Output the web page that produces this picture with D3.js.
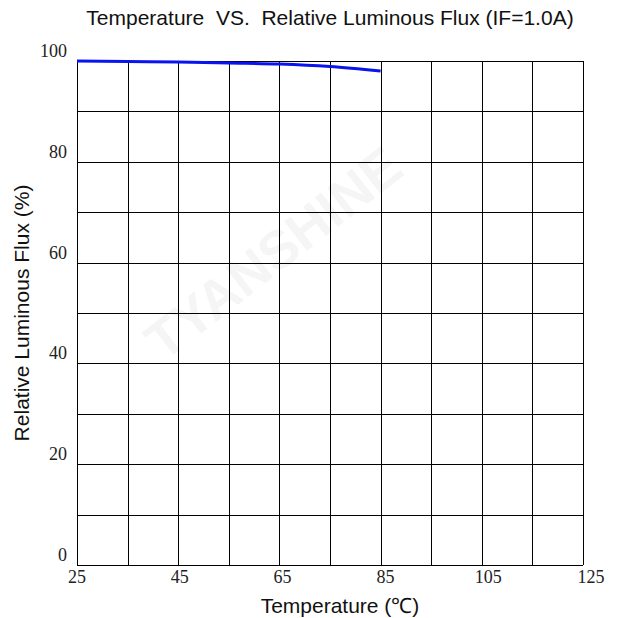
<!DOCTYPE html>
<html>
<head>
  <meta charset="UTF-8">
  <title>Temperature VS. Relative Luminous Flux</title>
  <script src="https://d3js.org/d3.v7.min.js"></script>
  <style>
    body { margin: 0; background: #fff; }
  </style>
</head>
<body>
  <div id="chart"></div>
  <script>
    // values
    const temps = [25, 35, 45, 55, 65, 75, 85];
    const flux = [100, 99.9, 99.8, 99.6, 99.4, 98.9, 98.0];

    const xTicks = [25, 45, 65, 85, 105, 125];
    const yTicks = [0, 20, 40, 60, 80, 100];
    const xGrid = [25, 35, 45, 55, 65, 75, 85, 95, 105, 115, 125];
    const yGrid = [0, 10, 20, 30, 40, 50, 60, 70, 80, 90, 100];

    const W = 622, H = 618;
    const margin = { top: 61, right: 39, bottom: 53, left: 77 };
    const width = W - margin.left - margin.right;
    const height = H - margin.top - margin.bottom;

    const svg = d3.select("#chart")
      .append("svg")
      .attr("width", W)
      .attr("height", H);

    // faint watermark
    svg.append("text")
      .attr("transform", "translate(285,268) rotate(-38)")
      .attr("text-anchor", "middle")
      .style("font-family", "Liberation Sans, Arial, sans-serif")
      .style("font-weight", "bold")
      .style("font-size", "54px")
      .style("fill", "#f5f5f5")
      .text("TYANSHINE");

    const g = svg.append("g")
      .attr("transform", "translate(" + margin.left + "," + margin.top + ")");

    const x = d3.scaleLinear().domain([25, 125]).range([0, width]);
    const y = d3.scaleLinear().domain([0, 100]).range([height, 0]);

    g.selectAll(".vgrid")
      .data(xGrid)
      .enter()
      .append("line")
      .attr("class", "vgrid")
      .attr("x1", d => Math.round(x(d)) + 0.5)
      .attr("x2", d => Math.round(x(d)) + 0.5)
      .attr("y1", 0)
      .attr("y2", height)
      .attr("stroke", "#000")
      .attr("stroke-width", 1);

    g.selectAll(".hgrid")
      .data(yGrid)
      .enter()
      .append("line")
      .attr("class", "hgrid")
      .attr("x1", 0)
      .attr("x2", width)
      .attr("y1", d => Math.round(y(d)) + 0.5)
      .attr("y2", d => Math.round(y(d)) + 0.5)
      .attr("stroke", "#000")
      .attr("stroke-width", 1);

    // tick labels
    g.selectAll(".xlab")
      .data(xTicks)
      .enter()
      .append("text")
      .attr("x", d => x(d) + (d - 25) * 0.08)
      .attr("y", height + 18)
      .attr("text-anchor", "middle")
      .style("font-family", "Liberation Serif, serif")
      .style("font-size", "18px")
      .style("fill", "#222")
      .text(d => d);

    g.selectAll(".ylab")
      .data(yTicks)
      .enter()
      .append("text")
      .attr("x", -10)
      .attr("y", d => y(d) - 4)
      .attr("text-anchor", "end")
      .style("font-family", "Liberation Serif, serif")
      .style("font-size", "18px")
      .style("fill", "#222")
      .text(d => d);

    // curve
    const line = d3.line()
      .x((d, i) => x(temps[i]))
      .y(d => y(d))
      .curve(d3.curveMonotoneX);

    g.append("path")
      .datum(flux)
      .attr("d", line)
      .attr("fill", "none")
      .attr("stroke", "#0a14f0")
      .attr("stroke-width", 3);

    // titles
    svg.append("text")
      .attr("x", 330)
      .attr("y", 25)
      .attr("text-anchor", "middle")
      .style("font-family", "Liberation Sans, Arial, sans-serif")
      .style("font-size", "21px")
      .style("fill", "#111")
      .style("white-space", "pre")
      .text("Temperature  VS.  Relative Luminous Flux (IF=1.0A)");

    svg.append("text")
      .attr("x", 340)
      .attr("y", 613)
      .attr("text-anchor", "middle")
      .style("font-family", "Liberation Sans, Arial, sans-serif")
      .style("font-size", "21px")
      .style("fill", "#111")
      .text("Temperature (℃)");

    svg.append("text")
      .attr("transform", "translate(29," + (margin.top + height / 2) + ") rotate(-90)")
      .attr("text-anchor", "middle")
      .style("font-family", "Liberation Sans, Arial, sans-serif")
      .style("font-size", "21px")
      .style("fill", "#111")
      .text("Relative Luminous Flux (%)");
  </script>
</body>
</html>
